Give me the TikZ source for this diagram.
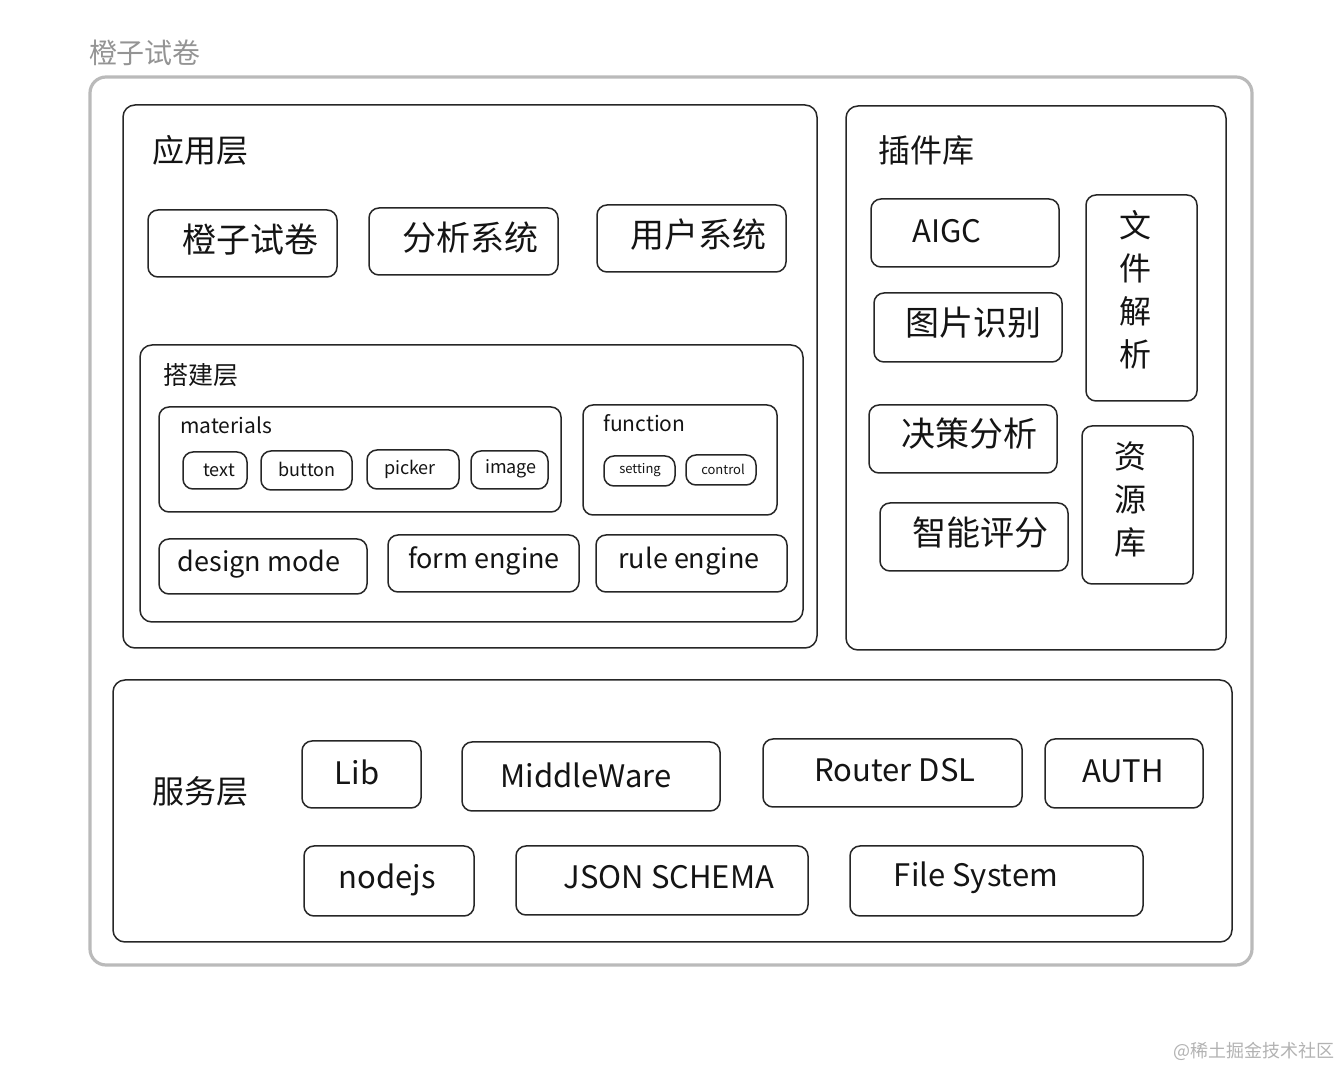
\documentclass[tikz,border=0pt]{standalone}
\usepackage{fontspec}
\setmainfont{Noto Sans CJK SC}
\usetikzlibrary{fit}
\begin{document}
\begin{tikzpicture}[x=0.5pt,y=-0.5pt,
  outerframe/.style={draw=black!27, line width=1.6pt, rounded corners=8pt, inner sep=0pt},
  frame/.style={draw=black!85, line width=0.75pt, rounded corners=6pt, inner sep=0pt},
  sbox/.style={draw=black!85, line width=0.75pt, rounded corners=5pt, inner sep=0pt},
  txt/.style={inner sep=0pt, text=black!92},
  fA/.style={font=\fontsize{17}{20}\selectfont},
  fH/.style={font=\fontsize{16}{19}\selectfont},
  fL/.style={font=\fontsize{15.5}{18}\selectfont},
  fD/.style={font=\fontsize{13.5}{16}\selectfont},
  fM/.style={font=\fontsize{10.5}{12}\selectfont},
  fS/.style={font=\fontsize{9}{11}\selectfont},
  fT/.style={font=\fontsize{6.5}{8}\selectfont},
  fV/.style={font=\fontsize{16}{21.5}\selectfont, align=center},
]
\useasboundingbox (0,0) rectangle (1340,1068);

% title and watermark
\node[txt, text=black!42, font=\fontsize{14}{16}\selectfont] (title) at (145,53) {橙子试卷};
\node[txt, anchor=east, text=black!30, font=\fontsize{9}{11}\selectfont] (wm) at (1335,1051) {@稀土掘金技术社区};

% outer frame
\node[outerframe, fit={(90,77) (1252,965)}] (outer) {};

% containers
\node[frame, fit={(123,105) (817,648)}] (app) {};
\node[frame, fit={(140,345) (803,622)}] (build) {};
\node[frame, fit={(846,106) (1226,650)}] (plug) {};
\node[frame, fit={(113,680) (1232,942)}] (svc) {};

\node[txt, fH, anchor=west] (appl) at (152,150) {应用层};
\node[txt, font=\fontsize{12.5}{15}\selectfont, anchor=west] (buildl) at (163,375) {搭建层};
\node[txt, fH, anchor=west] (plugl) at (878,150) {插件库};
\node[txt, fH, anchor=west] (svcl) at (152,791) {服务层};

% application layer
\node[sbox, fit={(148,210) (337,277)}] (a1) {};
\node[txt, fA] (a1t) at (250,240) {橙子试卷};
\node[sbox, fit={(369,208) (558,275)}] (a2) {};
\node[txt, fA] (a2t) at (470,238) {分析系统};
\node[sbox, fit={(597,205) (786,272)}] (a3) {};
\node[txt, fA] (a3t) at (698,235) {用户系统};

% build layer
\node[sbox, fit={(159,407) (561,512)}] (mat) {};
\node[txt, fM, anchor=west] (matl) at (180,425) {materials};
\node[sbox, fit={(183,452) (247,489)}] (m1) {};
\node[txt, fS] (m1t) at (219,470) {text};
\node[sbox, fit={(261,451) (352,490)}] (m2) {};
\node[txt, fS] (m2t) at (307,469) {button};
\node[sbox, fit={(367,450) (459,489)}] (m3) {};
\node[txt, fS] (m3t) at (410,469) {picker};
\node[sbox, fit={(471,451) (548,489)}] (m4) {};
\node[txt, fS] (m4t) at (511,469) {image};

\node[sbox, fit={(583,405) (777,515)}] (fun) {};
\node[txt, fM, anchor=west] (funl) at (603,423) {function};
\node[sbox, fit={(604,456) (675,486)}] (f1) {};
\node[txt, fT] (f1t) at (640,470) {setting};
\node[sbox, fit={(686,455) (756,485)}] (f2) {};
\node[txt, fT] (f2t) at (723,469) {control};

\node[sbox, fit={(159,539) (367,594)}] (d1) {};
\node[txt, fD] (d1t) at (259,564) {design mode};
\node[sbox, fit={(388,535) (579,592)}] (d2) {};
\node[txt, fD] (d2t) at (484,561) {form engine};
\node[sbox, fit={(596,535) (787,592)}] (d3) {};
\node[txt, fD] (d3t) at (689,561) {rule engine};

% plugin library
\node[sbox, fit={(871,199) (1059,267)}] (p1) {};
\node[txt, fL] (p1t) at (947,231) {AIGC};
\node[sbox, fit={(874,293) (1062,362)}] (p2) {};
\node[txt, fA] (p2t) at (973,323) {图片识别};
\node[sbox, fit={(869,405) (1057,473)}] (p3) {};
\node[txt, fA] (p3t) at (969,434) {决策分析};
\node[sbox, fit={(880,503) (1068,571)}] (p4) {};
\node[txt, fA] (p4t) at (980,533) {智能评分};
\node[sbox, fit={(1086,195) (1197,401)}] (p5) {};
\node[txt, fV] (p5t) at (1135,290) {文\\件\\解\\析};
\node[sbox, fit={(1082,426) (1193,584)}] (p6) {};
\node[txt, fV] (p6t) at (1130,499) {资\\源\\库};

% service layer
\node[sbox, fit={(302,741) (421,808)}] (s1) {};
\node[txt, fL] (s1t) at (357,772) {Lib};
\node[sbox, fit={(462,742) (720,811)}] (s2) {};
\node[txt, fL] (s2t) at (586,775) {MiddleWare};
\node[sbox, fit={(763,739) (1022,807)}] (s3) {};
\node[txt, fL] (s3t) at (895,770) {Router DSL};
\node[sbox, fit={(1045,739) (1203,808)}] (s4) {};
\node[txt, fL] (s4t) at (1123,771) {AUTH};
\node[sbox, fit={(304,846) (474,916)}] (s5) {};
\node[txt, fL] (s5t) at (387,880) {nodejs};
\node[sbox, fit={(516,846) (808,915)}] (s6) {};
\node[txt, fL] (s6t) at (669,877) {JSON SCHEMA};
\node[sbox, fit={(850,846) (1143,916)}] (s7) {};
\node[txt, fL] (s7t) at (976,878) {File System};
\end{tikzpicture}
\end{document}
